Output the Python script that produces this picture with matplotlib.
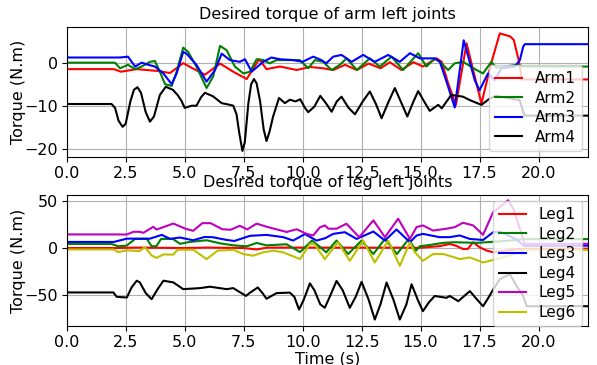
import matplotlib
matplotlib.use('Agg')
import matplotlib.pyplot as plt
import numpy as np

plt.rcParams['font.size'] = 11.5
plt.rcParams['xtick.major.pad'] = 3
plt.rcParams['ytick.major.pad'] = 2.5

# arm joints
arm1_t = [0, 2.0, 2.3, 2.96, 3.81, 4.38, 4.94, 5.3, 5.86, 6.5, 7.06, 7.63, 8.16, 8.47, 9.04, 9.75, 10.3, 10.87, 11.3, 11.8,
          12.3, 12.8, 13.3, 13.7, 14.19, 14.7, 15.1, 15.68, 15.9, 16.17, 16.5, 16.95, 17.58, 18.0, 18.36, 18.8, 18.95, 19.16, 19.3, 22.1]
arm1_y = [-1.5, -1.5, -2.1, -1.5, -1.9, -2.4, -0.1, -1.2, -2.8, -0.2, -2.1, -3.8, 0.8, -1.5, -0.9, -1.7, -1.0, -1.3, -1.7, -0.5,
          -1.7, -0.2, -1.3, 0.1, -1.7, 0.1, -0.9, 1.0, 0.2, -4.8, -9.8, 4.5, -9.5, 0.0, 6.8, 6.1, 5.3, 0.6, -3.9, -3.9]

arm2_t = [0, 2.05, 2.26, 2.6, 2.9, 3.18, 3.53, 3.74, 3.95, 4.17, 4.45, 4.66, 4.94, 5.15, 5.5, 5.93, 6.21, 6.5, 6.78, 7.13,
          7.49, 7.77, 8.05, 8.33, 8.6, 8.9, 9.6, 9.88, 10.24, 10.52, 10.87, 11.23, 11.58, 11.86, 12.3, 12.85, 13.27, 13.77, 14.26, 14.9,
          15.25, 15.6, 15.82, 16.17, 16.45, 16.8, 17.37, 17.65, 18.0, 18.22, 18.57, 19.07, 19.42, 22.1]
arm2_y = [0, 0, -1.3, -0.5, -1.5, -0.9, 0.2, 0.4, -2.1, -5.0, -5.4, -2.1, 3.5, 2.5, -0.9, -5.9, -3.2, 3.9, 2.9, -0.9,
          -2.5, -2.1, 0.8, 0.6, -0.15, 0.6, 0.6, 0.6, -1.3, 0.6, 0.2, -1.7, -0.5, 1.0, -1.7, 1.0, -0.9, 1.4, -1.7, 2.2,
          -0.9, 1.0, 0.2, -1.7, -0.15, 0.2, -1.7, -2.5, 0.2, -1.2, -0.9, -0.5, -0.9, -0.9]

arm3_t = [0, 2.26, 2.6, 2.9, 3.18, 3.46, 3.74, 4.1, 4.45, 4.66, 4.94, 5.08, 5.5, 5.93, 6.29, 6.57, 6.92, 7.34, 7.56, 7.84,
          8.33, 8.68, 9.04, 9.6, 10.0, 10.45, 10.8, 11.0, 11.3, 11.65, 12.08, 12.57, 13.06, 13.63, 14.12, 14.55, 14.97, 15.6, 15.82, 16.1,
          16.45, 16.83, 17.3, 17.5, 17.86, 18.14, 18.43, 19.0, 19.21, 19.35, 19.42, 22.1]
arm3_y = [1.2, 1.2, 1.4, -0.9, 0.0, -0.5, -0.9, -2.5, -5.0, -2.5, 2.5, 2.1, -0.5, -4.4, -1.7, 2.1, 0.6, 0.2, 0.8, -2.1,
          0.2, 1.2, 0.8, 0.6, 0.2, 1.4, 0.6, -0.15, 1.4, 1.8, 0.2, 1.8, 0.2, 1.8, 0.2, 2.2, 1.0, 1.0, 0.2, -4.4,
          -10.4, 5.2, -4.1, -6.4, -2.5, -4.1, -1.3, -0.9, 0.6, 3.7, 4.3, 4.3]

arm4_t = [0, 1.9, 2.05, 2.2, 2.37, 2.5, 2.7, 2.85, 3.0, 3.15, 3.35, 3.53, 3.7, 3.95, 4.2, 4.5, 4.7, 4.87, 5.0, 5.3,
          5.5, 5.7, 5.86, 6.2, 6.57, 6.92, 7.06, 7.2, 7.32, 7.45, 7.55, 7.7, 7.82, 7.94, 8.05, 8.2, 8.35, 8.47, 8.6, 8.75,
          9.0, 9.25, 9.46, 9.7, 9.9, 10.1, 10.24, 10.5, 10.75, 11.0, 11.23, 11.45, 11.65, 11.95, 12.22, 12.55, 12.85, 13.1, 13.35, 13.65,
          13.91, 14.2, 14.44, 14.7, 14.9, 15.15, 15.39, 15.75, 15.9, 16.3, 16.8, 17.09, 17.58, 17.94, 18.2, 18.36, 19.2, 19.3, 19.4, 22.1]
arm4_y = [-9.6, -9.6, -10.5, -13.5, -14.9, -14.2, -9.0, -6.3, -5.7, -7.0, -11.5, -13.7, -12.5, -7.5, -5.6, -6.3, -7.5, -8.9, -10.5, -10.0,
          -10.0, -8.0, -7.0, -7.8, -9.4, -9.8, -10.0, -12.0, -16.5, -20.5, -18.5, -9.5, -5.0, -3.8, -4.8, -9.0, -15.5, -18.2, -16.0, -12.5,
          -8.2, -9.4, -8.6, -9.0, -8.5, -10.5, -11.5, -10.2, -7.7, -9.5, -11.4, -9.0, -7.9, -10.5, -12.0, -9.0, -6.7, -9.5, -12.9, -9.0,
          -5.9, -9.5, -12.5, -9.0, -6.6, -9.0, -11.2, -9.8, -10.6, -7.5, -7.9, -8.7, -9.8, -8.3, -7.7, -7.9, -8.7, -10.5, -12.3, -12.3]

# leg joints
leg1_t = [0, 2.0, 3.0, 5.0, 6.0, 7.5, 8.05, 8.5, 10.0, 15.0, 15.8, 16.24, 16.5, 16.8, 17.0, 17.23, 17.5, 17.8, 18.08, 18.5, 19.3, 22.1]
leg1_y = [0, 0, 0.5, 0, 0.5, 0, -1.5, 0.5, 0.5, 0.3, 2.0, 4.3, 2.5, -1.0, -1.0, 6.2, 0.9, -2.7, -4.5, -3.0, -0.7, -0.7]

leg2_t = [0, 1.9, 2.19, 2.54, 2.9, 3.4, 3.6, 3.8, 4.0, 4.5, 4.8, 5.22, 5.93, 6.5, 7.06, 7.63, 8.05, 8.47, 9.32, 9.89,
          10.4, 10.7, 11.0, 11.44, 11.93, 12.5, 13.0, 13.49, 14.0, 14.5, 14.8, 14.97, 15.4, 15.96, 16.45, 17.37, 18.29, 19.0, 19.4, 22.1]
leg2_y = [4.3, 4.3, 1.9, 2.5, 9.7, 9.7, 1.9, 1.9, 9.7, 9.7, 4.5, 6.5, 8.3, 5.0, 2.9, 1.8, 5.4, 2.9, 4.0, -4.3,
          8.0, 2.0, -4.6, 8.0, -6.4, 8.0, -6.4, 9.7, -6.4, 9.7, -2.9, 1.9, 3.3, 5.5, 6.2, 5.5, 7.0, 8.5, 9.5, 9.5]

leg3_t = [0, 2.0, 2.55, 3.53, 4.03, 4.38, 4.8, 5.36, 5.85, 6.2, 6.7, 7.1, 7.77, 8.47, 9.18, 9.6, 10.1, 10.59, 10.95, 11.3,
          11.79, 12.29, 13.0, 13.49, 13.98, 14.55, 14.83, 15.1, 15.8, 16.24, 16.66, 17.09, 17.65, 18.08, 18.36, 19.0, 19.4, 22.1]
leg3_y = [6.5, 6.5, 10.0, 10.0, 14.0, 9.8, 11.2, 8.3, 11.8, 11.5, 9.0, 7.5, 13.0, 14.0, 11.6, 8.0, 14.9, 8.0, 10.4, 15.1,
          16.9, 9.7, 17.6, 8.0, 19.8, 6.2, 13.3, 15.1, 11.6, 11.6, 13.4, 9.7, 8.6, 16.9, 17.6, 10.0, 2.5, 2.5]

leg4_t = [0, 1.98, 2.12, 2.55, 2.75, 2.97, 3.1, 3.35, 3.6, 3.85, 4.1, 4.52, 4.94, 5.65, 6.07, 6.78, 7.06, 7.6, 7.77, 8.1,
          8.3, 8.47, 8.9, 9.46, 9.65, 9.85, 10.05, 10.31, 10.5, 10.75, 10.94, 11.15, 11.44, 11.7, 12.0, 12.25, 12.5, 12.8, 13.06, 13.3,
          13.56, 13.85, 14.12, 14.4, 14.62, 14.88, 15.1, 15.35, 15.6, 16.1, 16.24, 16.6, 17.09, 17.4, 17.65, 17.9, 18.08, 18.36, 18.79, 19.07,
          19.35, 19.5, 22.1]
leg4_y = [-47.3, -47.3, -52.0, -52.7, -42.0, -34.8, -36.6, -48.0, -54.5, -44.0, -34.8, -36.6, -43.8, -42.7, -41.2, -43.8, -42.7, -51.0, -47.6, -42.0,
          -48.0, -54.0, -48.0, -47.5, -52.0, -65.5, -55.0, -37.6, -45.0, -60.0, -63.7, -52.0, -35.0, -45.0, -63.7, -52.0, -36.0, -55.0, -76.2, -60.0,
          -36.8, -55.0, -76.2, -60.0, -38.6, -55.0, -67.3, -58.0, -51.1, -53.0, -51.1, -56.6, -45.9, -55.0, -62.0, -52.0, -44.1, -33.3, -27.9, -40.5,
          -51.1, -62.0, -62.0]

leg5_t = [0, 1.98, 2.55, 2.83, 3.1, 3.25, 3.67, 3.81, 4.52, 5.01, 5.36, 5.75, 6.1, 6.6, 6.95, 7.34, 7.65, 8.05, 8.5, 8.9,
          9.32, 9.75, 10.17, 10.45, 10.73, 10.95, 11.09, 11.44, 11.86, 12.4, 13.0, 13.49, 14.05, 14.55, 14.83, 15.1, 15.53, 16.1, 16.45, 16.8,
          17.23, 17.65, 18.08, 18.36, 18.71, 18.93, 19.21, 19.42, 22.1]
leg5_y = [14.5, 14.5, 14.4, 17.3, 17.3, 16.2, 22.6, 19.7, 26.1, 20.8, 18.3, 26.5, 26.5, 20.0, 19.5, 23.7, 19.8, 26.0, 22.5, 19.9,
          17.1, 20.0, 15.1, 13.4, 22.0, 24.1, 20.6, 20.6, 25.9, 11.6, 29.5, 11.6, 31.2, 9.7, 22.3, 24.1, 18.6, 20.6, 22.3, 26.9,
          24.1, 14.1, 38.4, 43.8, 50.9, 42.0, 20.6, 4.5, 4.5]

leg6_t = [0, 1.98, 2.19, 2.55, 3.1, 3.31, 3.6, 3.81, 4.1, 4.52, 4.7, 5.37, 5.93, 6.4, 7.06, 7.48, 7.9, 8.33, 8.75, 9.18,
          9.89, 10.31, 10.5, 10.94, 11.5, 12.0, 12.57, 13.06, 13.63, 14.12, 14.55, 14.76, 15.1, 15.53, 15.96, 16.45, 16.66, 17.09, 17.65, 18.22,
          18.8, 19.4, 22.1]
leg6_y = [-1.5, -1.5, -4.3, -2.5, -3.2, 1.1, -7.9, -10.5, -6.8, -7.0, -1.8, -1.8, -11.8, -2.8, -1.8, -6.4, -8.2, -4.6, -2.8, -4.6,
          -11.8, 4.3, 4.3, -11.8, 6.2, -13.6, 8.0, -15.4, 8.0, -19.0, 6.2, -4.6, -13.6, -6.4, -6.4, -10.0, -11.8, -10.0, -15.4, -11.8,
          -8.0, -2.0, -2.0]

xticks = [0.0, 2.5, 5.0, 7.5, 10.0, 12.5, 15.0, 17.5, 20.0]


def main():
    fig = plt.figure(figsize=(5.97, 3.65), dpi=100)
    ax1 = fig.add_axes([0.1117, 0.570, 0.8733, 0.355])
    ax2 = fig.add_axes([0.1117, 0.107, 0.8733, 0.359])
    leg_kw = dict(fontsize=11, labelspacing=0.3, handlelength=1.8, borderaxespad=0.4)

    ax1.plot(arm1_t, arm1_y, 'r', label='Arm1')
    ax1.plot(arm2_t, arm2_y, 'g', label='Arm2')
    ax1.plot(arm3_t, arm3_y, 'b', label='Arm3')
    ax1.plot(arm4_t, arm4_y, 'k', label='Arm4')
    ax1.set_title('Desired torque of arm left joints', fontsize=11.5)
    ax1.set_ylabel('Torque (N.m)', labelpad=-1)
    ax1.set_xlim(0, 22.1); ax1.set_ylim(-21.9, 8.2)
    ax1.set_xticks(xticks); ax1.set_yticks([-20, -10, 0])
    ax1.grid(True)
    ax1.legend(loc='lower right', **leg_kw)

    ax2.plot(leg1_t, leg1_y, 'r', label='Leg1')
    ax2.plot(leg2_t, leg2_y, 'g', label='Leg2')
    ax2.plot(leg3_t, leg3_y, 'b', label='Leg3')
    ax2.plot(leg4_t, leg4_y, 'k', label='Leg4')
    ax2.plot(leg5_t, leg5_y, 'm', label='Leg5')
    ax2.plot(leg6_t, leg6_y, 'y', label='Leg6')
    ax2.set_title('Desired torque of leg left joints', fontsize=11.5)
    ax2.set_ylabel('Torque (N.m)', labelpad=-1); ax2.set_xlabel('Time (s)', labelpad=1)
    ax2.set_xlim(0, 22.1); ax2.set_ylim(-83, 56.6)
    ax2.set_xticks(xticks); ax2.set_yticks([-50, 0, 50])
    ax2.grid(True)
    ax2.legend(loc='upper right', **leg_kw)

    fig.savefig('out.png', dpi=100)
    plt.close(fig)


if __name__ == '__main__':
    main()
